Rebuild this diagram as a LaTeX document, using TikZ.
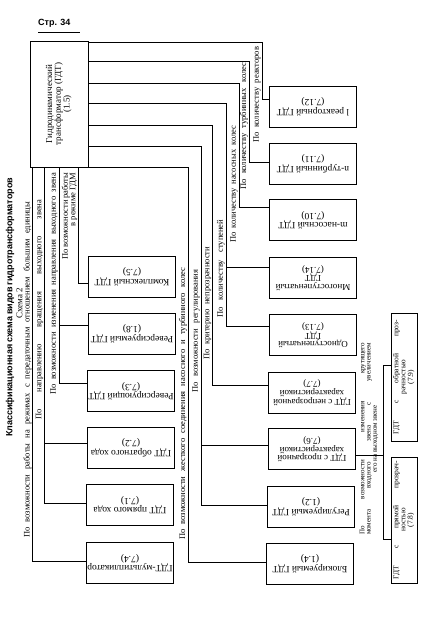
\documentclass[tikz,border=0pt]{standalone}
\usepackage{fontspec}
\setmainfont{Liberation Serif}
\newfontfamily\sansb{Liberation Sans}
\usetikzlibrary{calc}
\newcommand{\sx}[2]{\makebox[#1pt][s]{#2}}
\newcommand{\bxu}[1]{\rotatebox{180}{\begin{tabular}{@{}c@{}}#1\end{tabular}}}
\newcommand{\bxv}[1]{\rotatebox{90}{\begin{tabular}{@{}c@{}}#1\end{tabular}}}
\begin{document}
\begin{tikzpicture}[x=1pt,y=-1pt,
  bx/.style={draw, line width=0.9pt, inner sep=0pt, minimum width=87pt, minimum height=41pt, font=\fontsize{9.5}{9}\selectfont},
  bxt/.style={bx, font=\fontsize{9}{8.5}\selectfont},
  con/.style={line width=0.7pt},
  lab/.style={rotate=90, anchor=west, inner sep=0pt, font=\fontsize{8.5}{8}\selectfont},
]
\useasboundingbox (0,0) rectangle (432,619);

% page header
\node[anchor=base west, inner sep=0pt, font=\sansb\bfseries\fontsize{9}{10}\selectfont] (pg) at (38,25) {Стр. 34};
\draw[line width=1pt] (38,32) -- (80,32);

% title
\node[rotate=90, anchor=west, inner sep=0pt, font=\sansb\bfseries\fontsize{9}{10}\selectfont] (title) at (10,437) {\sx{259}{Классификационная схема видов гидротрансформаторов}};
\node[rotate=90, inner sep=0pt, font=\fontsize{9}{10}\selectfont] (schema) at (19.5,303) {Схема 2};

% top box
\node[draw, line width=0.9pt, minimum width=58pt, minimum height=126pt, inner sep=0pt, font=\fontsize{9}{8}\selectfont] (T) at (59,104) {\bxv{Гидродинамический\\трансформатор (ГДТ)\\(1.5)}};

% right column boxes
\node[bx] (b712) at (313,106.5) {\bxu{l реакторный ГДТ\\(7.12)}};
\node[bx] (b711) at (313,163.5) {\bxu{n-турбинный ГДТ\\(7.11)}};
\node[bx] (b710) at (313,220) {\bxu{m-насосный ГДТ\\(7.10)}};
\node[bxt] (b714) at (313,277.5) {\bxu{Многоступенчатый\\ГДТ\\(7.14)}};
\node[bxt] (b713) at (313,335) {\bxu{Одноступенчатый\\ГДТ\\(7.13)}};
\node[bxt] (b77) at (312,392.5) {\bxu{ГДТ с непрозрачной\\характеристикой\\(7.7)}};
\node[bxt] (b76) at (312,449) {\bxu{ГДТ с прозрачной\\характеристикой\\(7.6)}};
\node[bx] (b12) at (311,506.5) {\bxu{Регулируемый ГДТ\\(1.2)}};
\node[bx] (b14) at (310,563.5) {\bxu{Блокируемый ГДТ\\(1.4)}};

% middle column boxes
\node[bx] (b75) at (132,276.5) {\bxu{Комплексный ГДТ\\(7.5)}};
\node[bx] (b18) at (132,333.5) {\bxu{Реверсируемый ГДТ\\(1.8)}};
\node[bx] (b73) at (131,391) {\bxu{Реверсирующий ГДТ\\(7.3)}};
\node[bx] (b72) at (131,447.5) {\bxu{ГДТ обратного хода\\(7.2)}};
\node[bx] (b71) at (130,504.5) {\bxu{ГДТ прямого хода\\(7.1)}};
\node[bx] (b74) at (130,562.5) {\bxu{ГДТ-мультипликатор\\(7.4)}};

% transparency boxes
\node[draw, line width=0.9pt, minimum width=26pt, minimum height=128pt, inner sep=0pt, font=\fontsize{7.5}{7}\selectfont] (b79) at (404,377) {\bxv{\sx{114}{ГДТ с обратной проз-}\\рачностью\\(7.9)}};
\node[draw, line width=0.9pt, minimum width=26pt, minimum height=126pt, inner sep=0pt, font=\fontsize{7.5}{7}\selectfont] (b78) at (404,520) {\bxv{\sx{118}{ГДТ с прямой прозрач-}\\ностью\\(7.8)}};

% right branches
\draw[con] (T.east |- 0,42) -| (262,99) -- (b712.west |- 0,99);
\draw[con] (T.east |- 0,61) -| (249,162) -- (b711.west |- 0,162);
\draw[con] (T.east |- 0,83) -| (239,207) -- (b710.west |- 0,207);
\draw[con] (T.east |- 0,103) -| (226,326) -- (b713.west |- 0,326);
\draw[con] (226,267) -- (b714.west |- 0,267);
\draw[con] (T.east |- 0,125) -| (212,385) -- (b77.west |- 0,385);
\draw[con] (T.east |- 0,146) -| (201,505) -- (b12.west |- 0,505);
\draw[con] (201,445) -- (b76.west |- 0,445);
\draw[con] (T.south east) -| (188,562) -- (b14.west |- 0,562);

% left branches
\draw[con] (T.south -| 32,0) |- (b74.west |- 0,561);
\draw[con] (T.south -| 44,0) |- (b71.west |- 0,503);
\draw[con] (44,443) -- (b72.west |- 0,443);
\draw[con] (T.south -| 59,0) |- (b73.west |- 0,383);
\draw[con] (59,325) -- (b18.west |- 0,325);
\draw[con] (T.south -| 78,0) |- (b75.west |- 0,283);

% transparency branch
\draw[con] (b76.east |- 0,455) -- (383,455);
\draw[con] (b79.west |- 0,365) -| (383,539) -- (b78.west |- 0,539);

% labels
\node[lab] (lR1) at (257,143) {\sx{96}{По количеству реакторов}};
\node[lab] (lR2) at (244,190) {\sx{127}{По количеству турбинных колес}};
\node[lab] (lR3) at (234,243) {\sx{117}{По количеству насосных колес}};
\node[lab] (lR4) at (221,318) {\sx{98}{По количеству ступеней}};
\node[lab] (lR5) at (207.5,360) {\sx{113}{По критерию непрозрачности}};
\node[lab] (lR6) at (196,393) {\sx{123}{По возможности регулирования}};
\node[lab] (lR7) at (183,540) {\sx{272}{По возможности жесткого соединения насосного и турбинного колес}};
\node[lab] (lL1) at (27.5,538) {\sx{336}{По возможности работы на режимах с передаточным отношением большим единицы}};
\node[lab] (lL2) at (39.5,420) {\sx{220}{По направлению вращения выходного звена}};
\node[lab] (lL3) at (54,395) {\sx{222}{По возможности изменения направления выходного звена}};
\node[lab, align=right, font=\fontsize{8.5}{7.5}\selectfont] (lL4) at (69.5,260) {\sx{87}{По возможности работы}\\в режиме ГДМ};
\node[lab, align=center, font=\fontsize{7}{6.3}\selectfont] (lT) at (369,535) {\sx{192}{По возможности изменения крутящего}\\\sx{192}{момента входного звена с увеличением}\\его на выходном звене};
\end{tikzpicture}
\end{document}
